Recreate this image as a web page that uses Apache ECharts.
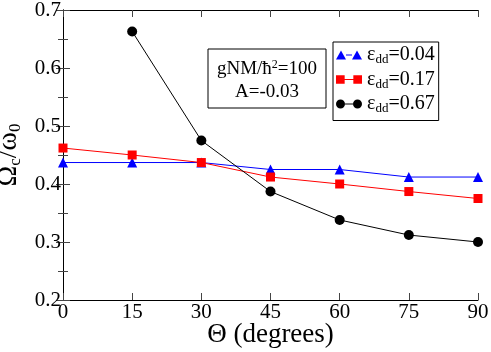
<!DOCTYPE html>
<html>
<head>
<meta charset="utf-8">
<script src="https://cdn.jsdelivr.net/npm/echarts@6/dist/echarts.min.js"></script>
<style>
  html, body { margin: 0; padding: 0; background: #fff; }
  #main { width: 491px; height: 352px; }
</style>
</head>
<body>
<div id="main"></div>
<script>
// angle theta (degrees)
const thetaDeg = [0, 15, 30, 45, 60, 75, 90];
const xTicks = [0, 15, 30, 45, 60, 75, 90];
const yTicks = [0.2, 0.3, 0.4, 0.5, 0.6, 0.7];
// Omega_c / omega_0 for each eps_dd
const eps004 = [0.437, 0.437, 0.437, 0.425, 0.425, 0.412, 0.412];
const eps017 = [0.462, 0.450, 0.437, 0.412, 0.400, 0.387, 0.375];
const eps067 = [null, 0.663, 0.475, 0.387, 0.338, 0.312, 0.300];
const seriesNames = ['0.04', '0.17', '0.67'];

const serif = 'Liberation Serif';
const pairs = (ys) => thetaDeg.map((t, i) => [t, ys[i]]).filter(p => p[1] !== null);

// legend icons: marker - line - marker
const triIcon = 'path://M0,10L5,1L10,10Z M10,5L16,5L16,6L10,6Z M16,10L21,1L26,10Z';
const sqIcon = 'path://M1,2L9,2L9,10L1,10Z M9,5.5L17,5.5L17,6.5L9,6.5Z M17,2L25,2L25,10L17,10Z';
const cirIcon = 'path://M0,5.5A4.5,4.5 0 1,0 9,5.5A4.5,4.5 0 1,0 0,5.5Z M9,5L17,5L17,6L9,6Z M17,5.5A4.5,4.5 0 1,0 26,5.5A4.5,4.5 0 1,0 17,5.5Z';

const myChart = echarts.init(document.getElementById('main'));

const axisLine = { show: true, lineStyle: { color: '#000', width: 1 } };
const axisTick = { show: true, inside: true, length: 7, lineStyle: { color: '#444' } };

let option = {
  animation: false,
  grid: { left: 63, right: 13, top: 10, bottom: 52, containLabel: false, outerBoundsMode: 'none' },
  legend: {
    orient: 'vertical',
    left: 333,
    top: 42,
    padding: [3, 4, 5, 3],
    itemGap: 3,
    itemWidth: 26,
    itemHeight: 10,
    borderColor: '#000',
    borderWidth: 1,
    data: [
      { name: seriesNames[0], icon: triIcon },
      { name: seriesNames[1], icon: sqIcon },
      { name: seriesNames[2], icon: cirIcon }
    ],
    formatter: (n) => '{e|ε}{s|dd}{e|=' + n + '}',
    textStyle: {
      fontFamily: serif,
      color: '#000',
      rich: {
        e: { fontFamily: serif, fontSize: 20, color: '#000' },
        s: { fontFamily: serif, fontSize: 13, color: '#000', padding: [10, 0, 0, 0] }
      }
    }
  },
  xAxis: [
    {
      type: 'value', min: 0, max: 90, interval: 15,
      name: 'Θ (degrees)', nameLocation: 'middle', nameGap: 21, nameMoveOverlap: false,
      nameTextStyle: { fontFamily: serif, fontSize: 27, color: '#000' },
      axisLine, axisTick,
      axisLabel: { fontFamily: serif, fontSize: 21, color: '#000', margin: 2,
        formatter: (v) => xTicks.includes(v) ? String(v) : '' },
      splitLine: { show: false }
    },
    {
      type: 'value', min: 0, max: 90, interval: 15, position: 'top',
      axisLine, axisTick, axisLabel: { show: false }, splitLine: { show: false }
    }
  ],
  yAxis: [
    {
      type: 'value', min: 0.2, max: 0.7, interval: 0.1,
      name: '{a|Ω}{s|c}{a|/ω}{s|0}', nameLocation: 'middle', nameGap: 31,
      nameTextStyle: {
        fontFamily: serif, color: '#000',
        rich: {
          a: { fontFamily: serif, fontSize: 28, color: '#000' },
          s: { fontFamily: serif, fontSize: 17, color: '#000', padding: [14, 0, 0, 0] }
        }
      },
      axisLine, axisTick,
      minorTick: { show: true, splitNumber: 2, length: 5, lineStyle: { color: '#444' } },
      axisLabel: { fontFamily: serif, fontSize: 21, color: '#000', margin: 2,
        formatter: (v) => yTicks.some(t => Math.abs(t - v) < 1e-6) ? v.toFixed(1) : '' },
      splitLine: { show: false }, minorSplitLine: { show: false }
    },
    {
      type: 'value', min: 0.2, max: 0.7, interval: 0.1, position: 'right',
      axisLine, axisTick,
      minorTick: { show: true, splitNumber: 2, length: 5, lineStyle: { color: '#444' } },
      axisLabel: { show: false }, splitLine: { show: false }
    }
  ],
  graphic: [
    {
      type: 'rect', x: 208, y: 49,
      shape: { width: 118, height: 59 },
      style: { fill: '#fff', stroke: '#000', lineWidth: 1 }, z: 10
    },
    {
      type: 'text', x: 267, y: 58, z: 11,
      style: {
        text: '{a|gNM/ħ}{p|2}{a|=100}\n{a|A=-0.03}',
        fontFamily: serif, fill: '#000', align: 'center', verticalAlign: 'top',
        rich: {
          a: { fontFamily: serif, fontSize: 19, fill: '#000', lineHeight: 23 },
          p: { fontFamily: serif, fontSize: 12, fill: '#000', padding: [0, 0, 9, 0] }
        }
      }
    }
  ],
  series: [
    {
      name: seriesNames[0], type: 'line', data: pairs(eps004),
      symbol: 'triangle', symbolSize: 10,
      itemStyle: { color: '#0000ff' }, lineStyle: { color: '#0000ff', width: 1 }
    },
    {
      name: seriesNames[1], type: 'line', data: pairs(eps017),
      symbol: 'rect', symbolSize: 9,
      itemStyle: { color: '#ff0000' }, lineStyle: { color: '#ff0000', width: 1 }
    },
    {
      name: seriesNames[2], type: 'line', data: pairs(eps067),
      symbol: 'circle', symbolSize: 10,
      itemStyle: { color: '#000' }, lineStyle: { color: '#000', width: 1 }
    }
  ]
};

myChart.setOption(option);
</script>
</body>
</html>
